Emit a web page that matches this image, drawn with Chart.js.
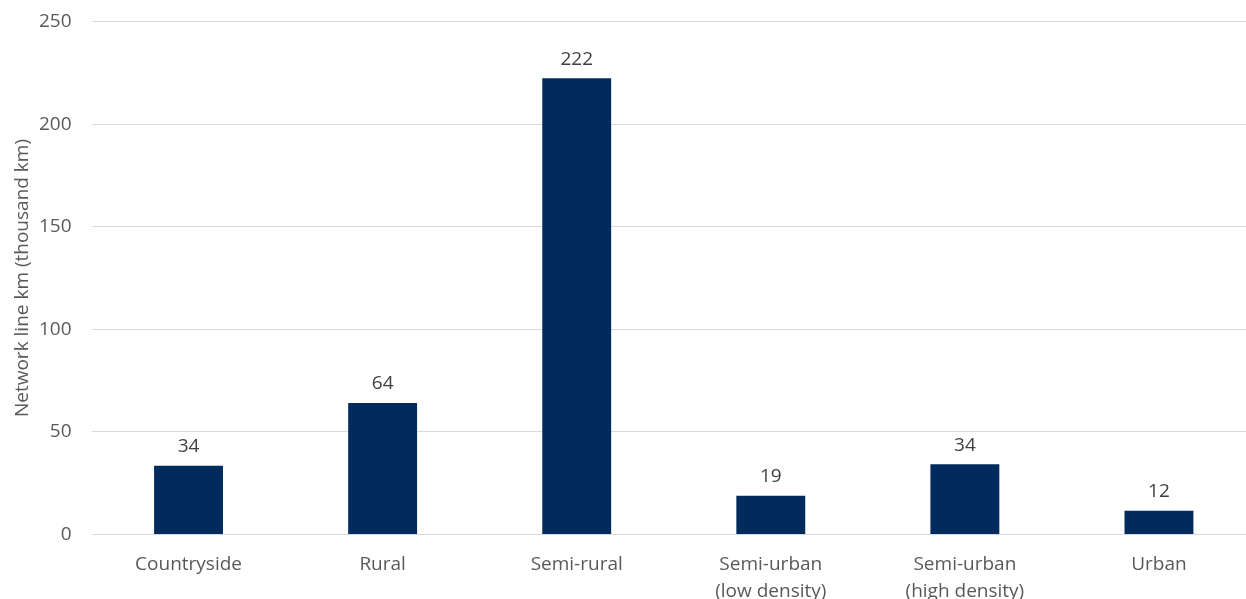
<!DOCTYPE html>
<html>
<head>
<meta charset="utf-8">
<script src="https://cdn.jsdelivr.net/npm/chart.js@4"></script>
<style>
html,body{margin:0;padding:0;background:#fff;overflow:hidden;}
#wrap{width:1256px;height:599px;position:relative;}
</style>
</head>
<body>
<div id="wrap"><canvas id="c"></canvas></div>
<script>
const categories = ["Countryside", "Rural", "Semi-rural", ["Semi-urban", "(low density)"], ["Semi-urban", "(high density)"], "Urban"];
const networkKm = [33.5, 64.1, 222.3, 18.9, 34.2, 11.6];
const valueLabels = ["34", "64", "222", "19", "34", "12"];
const yTicks = [0, 50, 100, 150, 200, 250];
const yTitle = "Network line km (thousand km)";

const FONT = "'Open Sans', sans-serif";

const labelPlugin = {
  id: 'valueLabels',
  afterDatasetsDraw(chart) {
    const ctx = chart.ctx;
    const meta = chart.getDatasetMeta(0);
    ctx.save();
    ctx.font = "19px " + FONT;
    ctx.fillStyle = "#404040";
    ctx.textAlign = "center";
    ctx.textBaseline = "middle";
    meta.data.forEach((bar, i) => {
      ctx.fillText(valueLabels[i], bar.x, bar.y - 19);
    });
    ctx.restore();
  }
};

new Chart(document.getElementById('c'), {
  type: 'bar',
  data: {
    labels: categories,
    datasets: [{
      data: networkKm,
      backgroundColor: '#002b5c',
      borderWidth: 0,
      barPercentage: 1,
      categoryPercentage: 0.355
    }]
  },
  options: {
    responsive: true,
    maintainAspectRatio: false,
    animation: false,
    layout: { padding: { top: 21.5, right: 0, bottom: 0, left: 0 } },
    plugins: { legend: { display: false }, tooltip: { enabled: false } },
    scales: {
      x: {
        grid: { display: false, drawTicks: false },
        border: { display: false },
        ticks: {
          font: { family: FONT, size: 19, lineHeight: 1.42 },
          color: '#595959',
          padding: 17,
          maxRotation: 0,
          autoSkip: false
        },
        afterFit(scale) { scale.height = 64.5; scale.paddingLeft = 0; scale.paddingRight = 0; }
      },
      y: {
        min: 0,
        max: 250,
        afterBuildTicks(scale) { scale.ticks = yTicks.map(v => ({ value: v })); },
        grid: { color: '#d9d9d9', lineWidth: 1, drawTicks: false },
        border: { display: false },
        ticks: {
          font: { family: FONT, size: 19 },
          color: '#595959',
          padding: 20
        },
        title: {
          display: true,
          text: yTitle,
          font: { family: FONT, size: 19 },
          color: '#595959',
          padding: { top: 11, bottom: 0 }
        },
        afterFit(scale) { scale.width = 91.5; scale.paddingTop = 0; scale.paddingBottom = 0; }
      }
    }
  },
  plugins: [labelPlugin]
});
</script>
</body>
</html>
